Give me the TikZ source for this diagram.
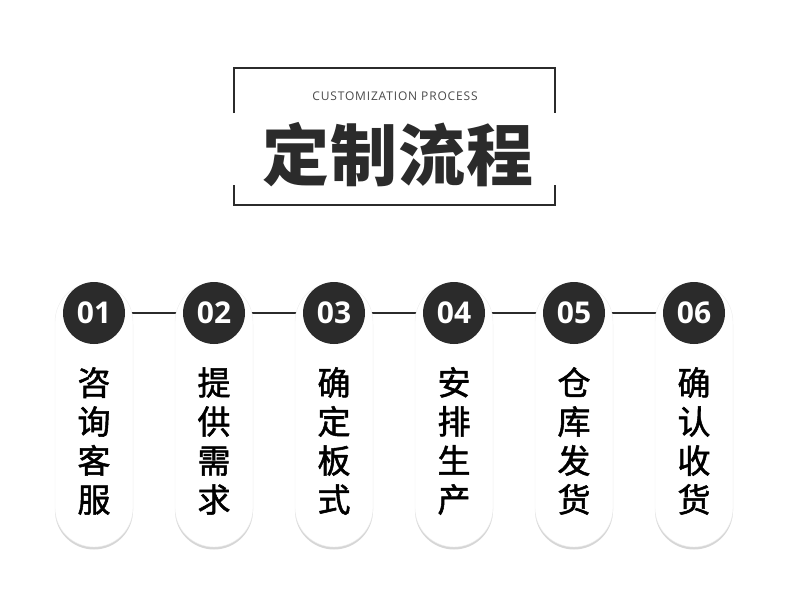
\documentclass[tikz,border=0pt]{standalone}
\usepackage{fontspec}
\setmainfont{Open Sans}
\newfontfamily\cjk[FakeBold=1.6]{Noto Sans CJK SC}
\newfontfamily\cjkTit{Noto Sans CJK SC}
\newfontfamily\latinEsp[LetterSpace=7]{Open Sans}
\usetikzlibrary{positioning,shadows,backgrounds}
\definecolor{procOscuro}{HTML}{2B2B2B}
\definecolor{procGris}{HTML}{4A4A4A}
\tikzset{
  capsula/.style={rectangle, rounded corners=39pt, fill=white, draw=black!7,
    minimum width=78pt, minimum height=264pt, inner sep=0pt,
    drop shadow={shadow xshift=0pt, shadow yshift=-2.5pt, opacity=0.16, fill=black}},
  numero/.style={circle, fill=procOscuro, minimum size=62pt, inner sep=0pt,
    text=white, font=\fontsize{30}{30}\selectfont\bfseries},
  pasoTexto/.style={align=center, text=black, inner sep=0pt,
    font=\cjk\fontsize{33}{39}\selectfont},
  enlace/.style={-, line width=2pt, procOscuro},
  marco/.style={line width=2pt, procOscuro},
}
\begin{document}
\begin{tikzpicture}[x=1pt, y=-1pt]
    \useasboundingbox (0,0) rectangle (790,606);
    % encabezado
    \node[font=\latinEsp\fontsize{12}{12}\selectfont, text=procGris] (sub) at (395,96) {CUSTOMIZATION PROCESS};
    \node[font=\cjkTit\bfseries\fontsize{67}{67}\selectfont, text=procOscuro] (tit) at (398,155) {定\kern1pt制\kern1pt流\kern1pt程};
    \coordinate (mA) at (234,68);
    \coordinate (mB) at (555,205);
    \draw[marco] (234,113) -- (mA) -- (555,68) -- (555,113);
    \draw[marco] (234,185) -- (234,205) -- (mB) -- (555,185);
    % pasos
    \foreach \i/\txt in {1/咨\\询\\客\\服, 2/提\\供\\需\\求, 3/确\\定\\板\\式,
                         4/安\\排\\生\\产, 5/仓\\库\\发\\货, 6/确\\认\\收\\货}{
      \node[capsula] (p\i) at ({94+120*(\i-1)},415) {};
      \node[numero] (n\i) at ({94+120*(\i-1)},313) {0\i};
      \node[pasoTexto] (t\i) at ({94+120*(\i-1)},441) {\txt};
    }
    \begin{scope}[on background layer]
      \foreach \a/\b in {1/2,2/3,3/4,4/5,5/6}{\draw[enlace] (n\a.east) -- (n\b.west);}
    \end{scope}
  \end{tikzpicture}
\end{document}
